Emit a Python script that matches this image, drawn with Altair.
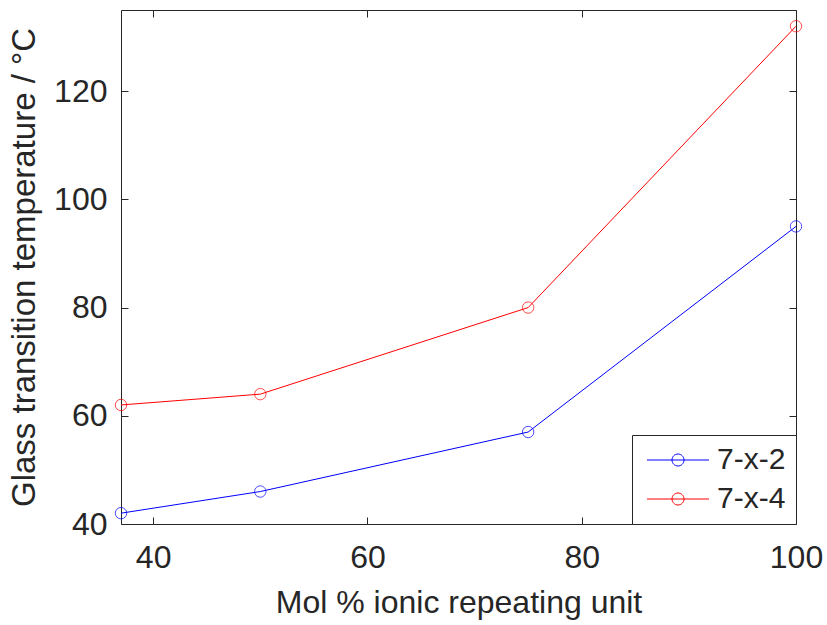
import altair as alt
import pandas as pd

mol = [37, 50, 75, 100]
tg_72 = [42, 46, 57, 95]
tg_74 = [62, 64, 80, 132]
series = ["7-x-2", "7-x-4"]
colors = ["#0000ff", "#ff0000"]
x_ticks = [40, 60, 80, 100]
y_ticks = [40, 60, 80, 100, 120]

rows = []
for s, vals in zip(series, [tg_72, tg_74]):
    for m, v in zip(mol, vals):
        rows.append({"mol": m, "tg": v, "series": s})
df = pd.DataFrame(rows)

FONT = "Liberation Sans"
TXT = "#262626"
FS = 32
YFS = 33
LFS = 30

xscale = alt.Scale(domain=[37, 100], nice=False, zero=False)
yscale = alt.Scale(domain=[40, 135], nice=False, zero=False)

# legend glyph: short line with an open circle in its middle (units of sqrt(size)/2 px)
legend_path = "M-1.0,0L5.2,0M2.7,0A0.6,0.6 0 1,1 1.5,0A0.6,0.6 0 1,1 2.7,0"

color = alt.Color(
    "series:N",
    scale=alt.Scale(domain=series, range=colors),
    legend=alt.Legend(
        title=None, orient="bottom-right", offset=0,
        strokeColor=TXT, fillColor="white", padding=10,
        symbolType=legend_path, symbolSize=400, symbolStrokeWidth=1,
        symbolFillColor="transparent",
        labelFontSize=LFS, labelFont=FONT, labelColor=TXT,
        labelOffset=45, rowPadding=9, cornerRadius=0,
    ),
)

base = alt.Chart(df)

main_x = alt.X("mol:Q", scale=xscale, title="Mol % ionic repeating unit",
               axis=alt.Axis(orient="bottom", values=x_ticks, offset=-7, tickSize=7,
                             domain=False, grid=False, labelPadding=18, titlePadding=14,
                             labelFlush=False,
                             labelFontSize=FS, titleFontSize=FS))
main_y = alt.Y("tg:Q", scale=yscale, title="Glass transition temperature / °C",
               axis=alt.Axis(orient="left", values=y_ticks, offset=-7, tickSize=7,
                             domain=False, grid=False, labelPadding=14, titlePadding=12,
                             labelFlush=False,
                             labelFontSize=FS, titleFontSize=YFS))

lines = base.mark_line(strokeWidth=1).encode(x=main_x, y=main_y, color=color,
                                             detail="series:N")
points = base.mark_point(shape="circle", filled=False, size=130, strokeWidth=1).encode(
    x=alt.X("mol:Q", scale=xscale, axis=None),
    y=alt.Y("tg:Q", scale=yscale, axis=None),
    color=alt.Color("series:N", scale=alt.Scale(domain=series, range=colors), legend=None),
)

top_right = base.mark_point(opacity=0).encode(
    x=alt.X("mol:Q", scale=xscale, title=None,
            axis=alt.Axis(orient="top", values=x_ticks, offset=-7, tickSize=7, domain=False,
                          grid=False, labels=False)),
    y=alt.Y("tg:Q", scale=yscale, title=None,
            axis=alt.Axis(orient="right", values=y_ticks, offset=-7, tickSize=7, domain=False,
                          grid=False, labels=False)),
)

chart = alt.layer(lines, points, top_right).resolve_axis(
    x="independent", y="independent"
).properties(
    width=675, height=514,
    padding={"left": 121, "top": 10, "right": 31, "bottom": 101},
    autosize=alt.AutoSizeParams(type="none"),
    background="white",
).configure_view(
    stroke=TXT, strokeWidth=1
).configure_axis(
    labelFont=FONT, titleFont=FONT, labelColor=TXT, titleColor=TXT,
    tickColor=TXT, titleFontWeight="normal",
)

chart.save("out.html", embed_options={"renderer": "svg", "actions": False})
